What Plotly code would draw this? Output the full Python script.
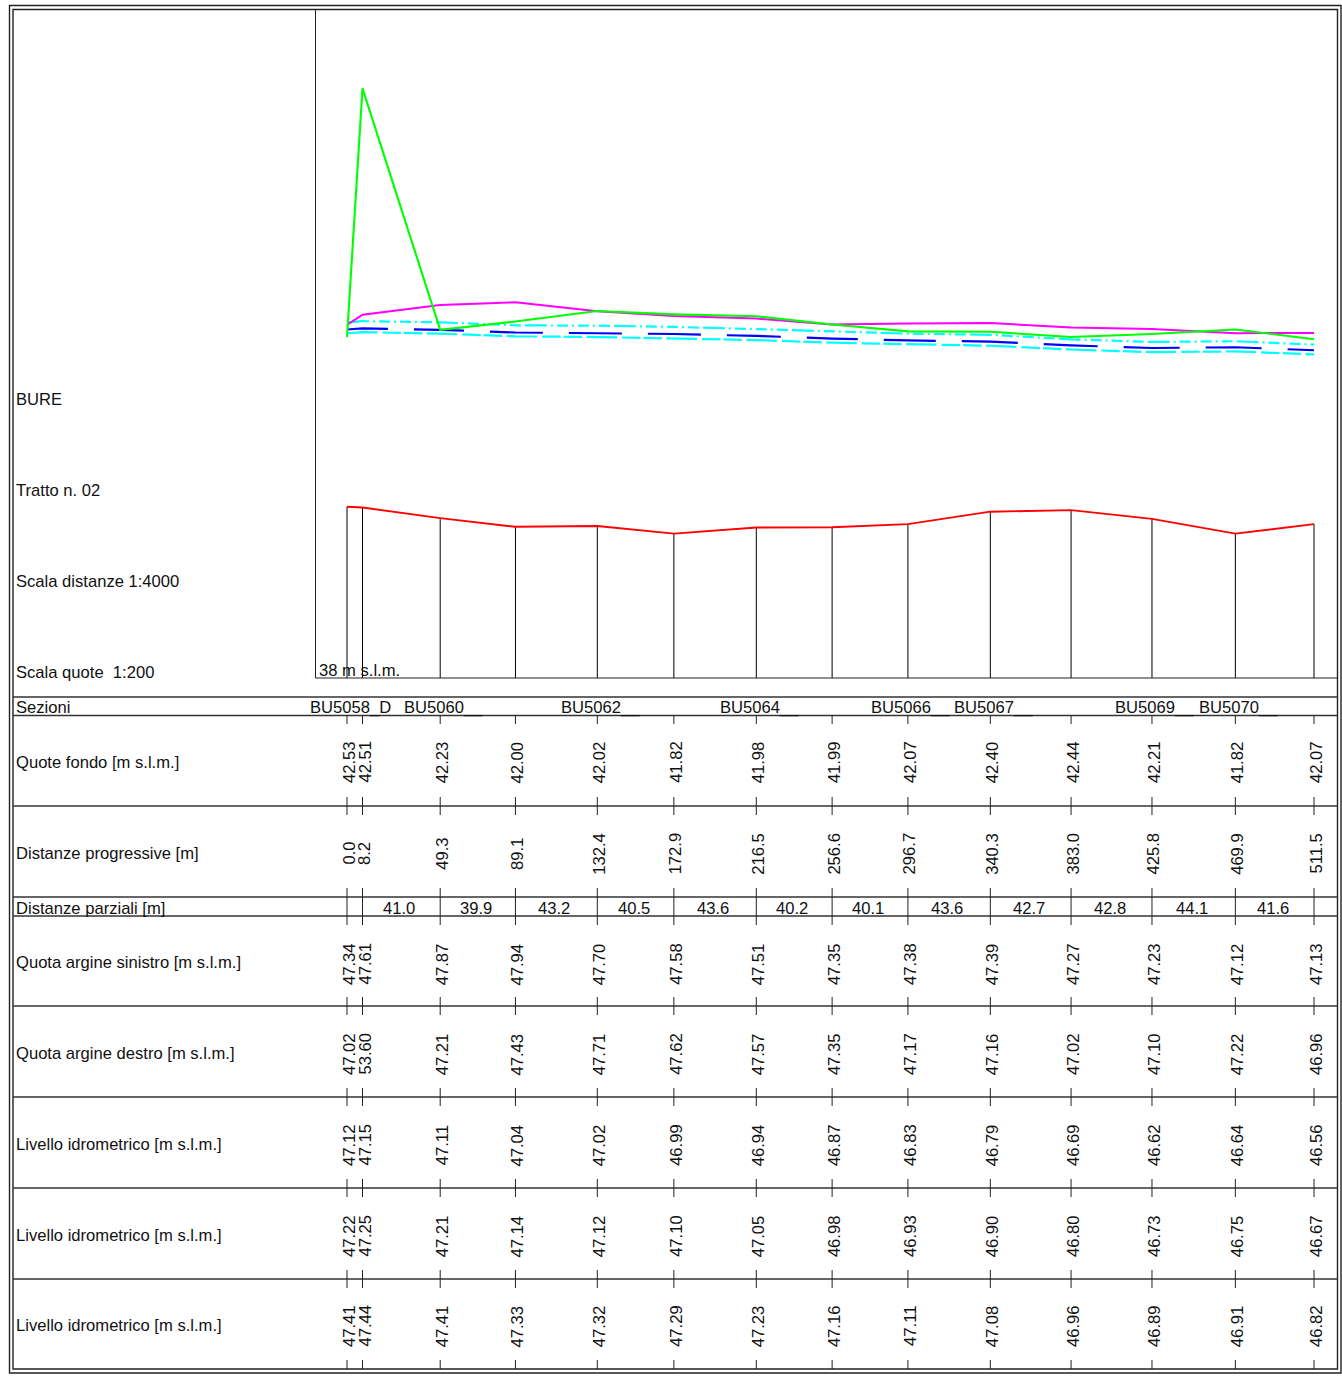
import plotly.graph_objects as go

# ---------- data ----------
dist = [0.0, 8.2, 49.3, 89.1, 132.4, 172.9, 216.5, 256.6, 296.7, 340.3, 383.0, 425.8, 469.9, 511.5]
fondo = [42.53, 42.51, 42.23, 42.00, 42.02, 41.82, 41.98, 41.99, 42.07, 42.40, 42.44, 42.21, 41.82, 42.07]
arg_sin = [47.34, 47.61, 47.87, 47.94, 47.70, 47.58, 47.51, 47.35, 47.38, 47.39, 47.27, 47.23, 47.12, 47.13]
arg_des = [47.02, 53.60, 47.21, 47.43, 47.71, 47.62, 47.57, 47.35, 47.17, 47.16, 47.02, 47.10, 47.22, 46.96]
liv_1 = [47.12, 47.15, 47.11, 47.04, 47.02, 46.99, 46.94, 46.87, 46.83, 46.79, 46.69, 46.62, 46.64, 46.56]
liv_2 = [47.22, 47.25, 47.21, 47.14, 47.12, 47.10, 47.05, 46.98, 46.93, 46.90, 46.80, 46.73, 46.75, 46.67]
liv_3 = [47.41, 47.44, 47.41, 47.33, 47.32, 47.29, 47.23, 47.16, 47.11, 47.08, 46.96, 46.89, 46.91, 46.82]
parziali = [None, "41.0", "39.9", "43.2", "40.5", "43.6", "40.2", "40.1", "43.6", "42.7", "42.8", "44.1", "41.6"]
sezioni = ["BU5058_D", None, "BU5060__", None, "BU5062__", None, "BU5064__", None,
           "BU5066__", "BU5067__", None, "BU5069__", "BU5070__", None]
side_labels = ["BURE", "Tratto n. 02", "Scala distanze 1:4000", "Scala quote  1:200"]

# ---------- layout constants ----------
W, H = 1342, 1381
PX_X = 967.0 / 511.5      # px per metre along the channel
PX_Y = 37.8               # px per metre of elevation
X0_PX, Y0_PX = 347.0, 678.0
DATUM = 38.0
FONT = "Liberation Sans"
FS = 16.6
INK = "#111111"
RULE = "#333333"


def py(p):
    return 1 - p / H


def px(p):
    return p / W


x_range = [-X0_PX / PX_X, (W - X0_PX) / PX_X]
y_range = [DATUM - (H - Y0_PX) / PX_Y, DATUM + Y0_PX / PX_Y]

fig = go.Figure()

# section verticals, from the datum to the bed
for d, f in zip(dist, fondo):
    fig.add_trace(go.Scatter(x=[d, d], y=[DATUM, f], mode="lines", showlegend=False, hoverinfo="skip",
                             line=dict(color="#000000", width=1)))


def pattern(first, rest, total=1100):
    out = list(first)
    while sum(out) < total:
        out += rest
    return ",".join(f"{v}px" for v in out)


blue_dashes = [41, 50, 53, 53, 53, 54, 51, 52, 56, 54, 56, 56, 60]
blue_first = [v for dash in blue_dashes for v in (dash, 26)]

series = [
    (fondo, "#ff0000", 1.9, "solid"),
    (liv_1, "#00ffff", 2.2, pattern([], [30.5, 5, 18.5, 3, 18.5, 4.4])),
    (liv_3, "#00ffff", 2.2, pattern([], [22, 4, 2, 4, 11, 4, 2, 4, 11, 4, 2, 4, 11, 4])),
    (liv_2, "#0000ff", 2.2, pattern(blue_first, [60, 26])),
    (arg_sin, "#ff00ff", 2, "solid"),
    (arg_des, "#00ff00", 2.1, "solid"),
]
for vals, col, lw, dash in series:
    fig.add_trace(go.Scatter(x=dist, y=vals, mode="lines", showlegend=False, hoverinfo="skip",
                             line=dict(color=col, width=lw, dash=dash)))

shapes = []


def rule(x0, y0, x1, y1, color=RULE, width=1.3):
    shapes.append(dict(type="line", xref="paper", yref="paper", x0=px(x0), x1=px(x1), y0=py(y0), y1=py(y1),
                       line=dict(color=color, width=width)))


# double frame
for l, t, r, b, w in [(9.5, 5.5, 1341, 1373, 1.4), (13, 9.5, 1337.5, 1369, 1.4)]:
    shapes.append(dict(type="rect", xref="paper", yref="paper", x0=px(l), x1=px(r), y0=py(t), y1=py(b),
                       line=dict(color="#222222", width=w), fillcolor="rgba(0,0,0,0)"))

# plot box and table rows
rule(315.5, 9.5, 315.5, 678, "#222222", 1)
rule(315.5, 678, 1337.5, 678, "#222222", 1)
for y in [697, 715.5, 806, 897, 916, 1006, 1097, 1188, 1279]:
    rule(13, y, 1337.5, y)

# section ticks in every row
tick_spans = [(715.5, 724), (797, 815), (888, 925), (997, 1015), (1088, 1106), (1179, 1197), (1270, 1288), (1360, 1369)]
for d in dist:
    for y0, y1 in tick_spans:
        shapes.append(dict(type="line", xref="x", yref="paper", x0=d, x1=d, y0=py(y0), y1=py(y1),
                           line=dict(color="#222222", width=1)))

ann = []


def text(s, xref, x, y, **kw):
    base = dict(text=s, xref=xref, x=x, yref="paper", y=py(y), showarrow=False,
                font=dict(family=FONT, size=FS, color=INK), borderpad=0, borderwidth=0)
    base.update(kw)
    ann.append(base)


for s, y in zip(side_labels, [399.5, 490.5, 581.5, 672.5]):
    text(s, "paper", px(16), y, xanchor="left", yanchor="middle")
text("38 m s.l.m.", "paper", px(319), 670.5, xanchor="left", yanchor="middle")

row_labels = [
    ("Sezioni", 707.5), ("Quote fondo [m s.l.m.]", 762.5), ("Distanze progressive [m]", 853.5),
    ("Distanze parziali [m]", 908.5), ("Quota argine sinistro [m s.l.m.]", 962.5),
    ("Quota argine destro [m s.l.m.]", 1053.5), ("Livello idrometrico [m s.l.m.]", 1144.5),
    ("Livello idrometrico [m s.l.m.]", 1235.5), ("Livello idrometrico [m s.l.m.]", 1325.5),
]
for s, y in row_labels:
    text(s, "paper", px(16), y, xanchor="left", yanchor="middle")

# section names
for d, s in zip(dist, sezioni):
    if s:
        text(s, "x", d, 707.5, xanchor="center", yanchor="middle", xshift=3)

# rotated value columns, centred in their rows
columns = [
    (fondo, "{:.2f}", 762), (dist, "{:.1f}", 853.5), (arg_sin, "{:.2f}", 964),
    (arg_des, "{:.2f}", 1054), (liv_1, "{:.2f}", 1145), (liv_2, "{:.2f}", 1236), (liv_3, "{:.2f}", 1326),
]
for vals, fmt, mid in columns:
    for d, v in zip(dist, vals):
        text(fmt.format(v), "x", d, mid, xanchor="center", yanchor="middle", textangle=-90, xshift=2)

# partial distances
for i, s in enumerate(parziali):
    if s:
        text(s, "x", (dist[i] + dist[i + 1]) / 2, 908.5, xanchor="center", yanchor="middle", xshift=-2)

fig.update_layout(
    width=W, height=H, margin=dict(l=0, r=0, t=0, b=0), autosize=False,
    paper_bgcolor="#ffffff", plot_bgcolor="#ffffff", showlegend=False,
    xaxis=dict(visible=False, range=x_range, domain=[0, 1], fixedrange=True),
    yaxis=dict(visible=False, range=y_range, domain=[0, 1], fixedrange=True),
    shapes=shapes, annotations=ann,
)
fig.write_html("out.html", config=dict(displayModeBar=False, responsive=False),
               post_script="document.body.style.margin='0';document.body.style.overflow='hidden';")
